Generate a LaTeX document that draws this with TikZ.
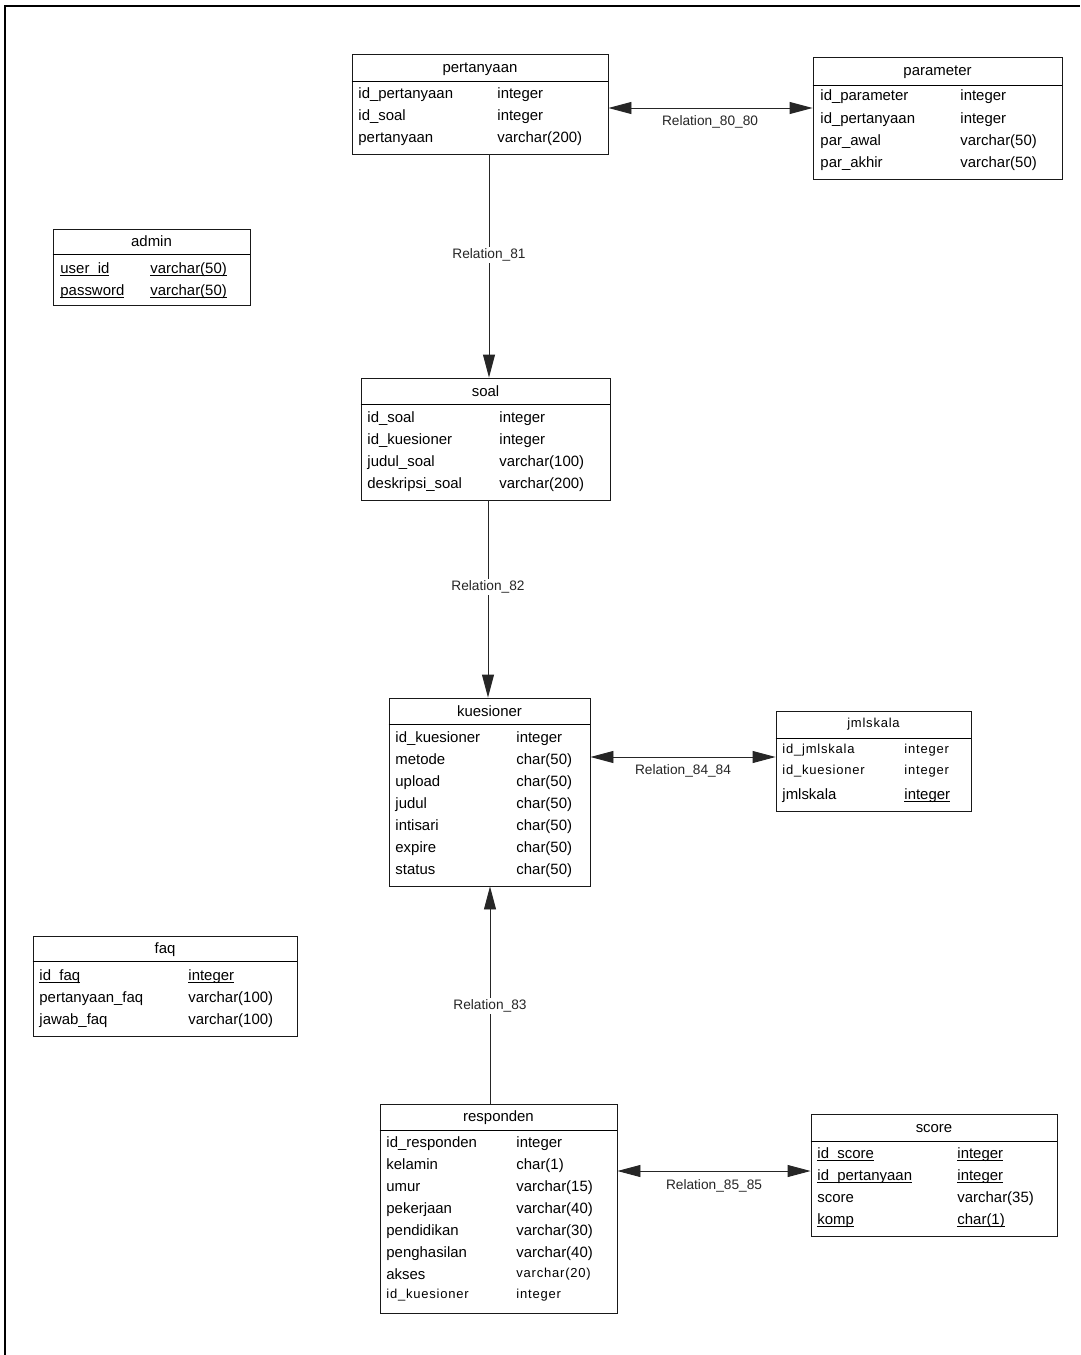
\documentclass[tikz,border=0pt]{standalone}
\usepackage{fontspec}
\setmainfont{Liberation Sans}
\usetikzlibrary{arrows.meta,fit}
\newcommand\ulin[1]{\setbox0\hbox{#1}\rlap{\rule[-1.5pt]{\wd0}{0.45pt}}\box0}

\begin{document}
\begin{tikzpicture}[x=0.02cm, y=-0.02cm, line width=0.5pt,
    >={Triangle[length=4.6mm,width=2.4mm]},
    tbl/.style={draw=black!90, inner sep=0pt},
    ttl/.style={anchor=base, inner sep=0pt, font=\fontsize{8.5}{10}\selectfont},
    sttl/.style={ttl, font=\fontsize{7.4}{9}\selectfont\addfontfeature{LetterSpace=6}},
    fld/.style={anchor=base west, inner sep=0pt, font=\fontsize{8.5}{10}\selectfont},
    sfld/.style={fld, font=\fontsize{7.4}{9}\selectfont\addfontfeature{LetterSpace=6}},
    rlab/.style={fill=white, inner sep=1pt, text=black!85, font=\fontsize{7.8}{9}\selectfont},
    rel/.style={draw=black!85}]
    \useasboundingbox (0,0) rectangle (1080,1355);
    \draw[line width=1.2pt] (5,1355) -- (5,6) -- (1080,6);

    % pertanyaan
    \node[tbl, fit={(352,54) (608,154)}] (pert) {};
    \draw (pert.west |- 0,81) -- (pert.east |- 0,81);
    \node[ttl] (pert-h) at (480,72) {pertanyaan};
    \path (358,98) node[fld] (pert-1) {id\_pertanyaan} +(139,0) node[fld] (pert-1t) {integer}
    ++(0,22) node[fld] (pert-2) {id\_soal} +(139,0) node[fld] (pert-2t) {integer}
    ++(0,22) node[fld] (pert-3) {pertanyaan} +(139,0) node[fld] (pert-3t) {varchar(200)};

    % parameter
    \node[tbl, fit={(813,57) (1062,179)}] (param) {};
    \draw (param.west |- 0,85) -- (param.east |- 0,85);
    \node[ttl] (param-h) at (937.5,76) {parameter};
    \path (820,101) node[fld] (param-1) {id\_parameter} +(140,0) node[fld] (param-1t) {integer}
    ++(0,22) node[fld] (param-2) {id\_pertanyaan} +(140,0) node[fld] (param-2t) {integer}
    ++(0,22) node[fld] (param-3) {par\_awal} +(140,0) node[fld] (param-3t) {varchar(50)}
    ++(0,22) node[fld] (param-4) {par\_akhir} +(140,0) node[fld] (param-4t) {varchar(50)};

    % admin
    \node[tbl, fit={(53,229) (250,305)}] (admin) {};
    \draw (admin.west |- 0,254) -- (admin.east |- 0,254);
    \node[ttl] (admin-h) at (151.5,246) {admin};
    \path (60,273) node[fld] (admin-1) {\ulin{user\_id}} +(90,0) node[fld] (admin-1t) {\ulin{varchar(50)}}
    ++(0,22) node[fld] (admin-2) {\ulin{password}} +(90,0) node[fld] (admin-2t) {\ulin{varchar(50)}};

    % soal
    \node[tbl, fit={(361,378) (610,500)}] (soal) {};
    \draw (soal.west |- 0,404) -- (soal.east |- 0,404);
    \node[ttl] (soal-h) at (485.5,396) {soal};
    \path (367,422) node[fld] (soal-1) {id\_soal} +(132,0) node[fld] (soal-1t) {integer}
    ++(0,22) node[fld] (soal-2) {id\_kuesioner} +(132,0) node[fld] (soal-2t) {integer}
    ++(0,22) node[fld] (soal-3) {judul\_soal} +(132,0) node[fld] (soal-3t) {varchar(100)}
    ++(0,22) node[fld] (soal-4) {deskripsi\_soal} +(132,0) node[fld] (soal-4t) {varchar(200)};

    % kuesioner
    \node[tbl, fit={(389,698) (590,886)}] (kues) {};
    \draw (kues.west |- 0,724) -- (kues.east |- 0,724);
    \node[ttl] (kues-h) at (489.5,716) {kuesioner};
    \path (395,742) node[fld] (kues-1) {id\_kuesioner} +(121,0) node[fld] (kues-1t) {integer}
    ++(0,22) node[fld] (kues-2) {metode} +(121,0) node[fld] (kues-2t) {char(50)}
    ++(0,22) node[fld] (kues-3) {upload} +(121,0) node[fld] (kues-3t) {char(50)}
    ++(0,22) node[fld] (kues-4) {judul} +(121,0) node[fld] (kues-4t) {char(50)}
    ++(0,22) node[fld] (kues-5) {intisari} +(121,0) node[fld] (kues-5t) {char(50)}
    ++(0,22) node[fld] (kues-6) {expire} +(121,0) node[fld] (kues-6t) {char(50)}
    ++(0,22) node[fld] (kues-7) {status} +(121,0) node[fld] (kues-7t) {char(50)};

    % jmlskala
    \node[tbl, fit={(776,711) (971,811)}] (jml) {};
    \draw (jml.west |- 0,738) -- (jml.east |- 0,738);
    \node[sttl] (jml-h) at (873.5,727) {jmlskala};
    \path (782,753) node[sfld] (jml-1) {id\_jmlskala} +(122,0) node[sfld] (jml-1t) {integer}
    ++(0,21) node[sfld] (jml-2) {id\_kuesioner} +(122,0) node[sfld] (jml-2t) {integer}
    ++(0,25) node[fld] (jml-3) {jmlskala} +(122,0) node[fld] (jml-3t) {\ulin{integer}};

    % faq
    \node[tbl, fit={(33,936) (297,1036)}] (faq) {};
    \draw (faq.west |- 0,961) -- (faq.east |- 0,961);
    \node[ttl] (faq-h) at (165,953) {faq};
    \path (39,980) node[fld] (faq-1) {\ulin{id\_faq}} +(149,0) node[fld] (faq-1t) {\ulin{integer}}
    ++(0,22) node[fld] (faq-2) {pertanyaan\_faq} +(149,0) node[fld] (faq-2t) {varchar(100)}
    ++(0,22) node[fld] (faq-3) {jawab\_faq} +(149,0) node[fld] (faq-3t) {varchar(100)};

    % responden
    \node[tbl, fit={(380,1104) (617,1313)}] (resp) {};
    \draw (resp.west |- 0,1130) -- (resp.east |- 0,1130);
    \node[ttl] (resp-h) at (498.5,1121) {responden};
    \path (386,1147) node[fld] (resp-1) {id\_responden} +(130,0) node[fld] (resp-1t) {integer}
    ++(0,22) node[fld] (resp-2) {kelamin} +(130,0) node[fld] (resp-2t) {char(1)}
    ++(0,22) node[fld] (resp-3) {umur} +(130,0) node[fld] (resp-3t) {varchar(15)}
    ++(0,22) node[fld] (resp-4) {pekerjaan} +(130,0) node[fld] (resp-4t) {varchar(40)}
    ++(0,22) node[fld] (resp-5) {pendidikan} +(130,0) node[fld] (resp-5t) {varchar(30)}
    ++(0,22) node[fld] (resp-6) {penghasilan} +(130,0) node[fld] (resp-6t) {varchar(40)}
    ++(0,22) node[fld] (resp-7) {akses} +(130,-2) node[sfld] (resp-7t) {varchar(20)}
    ++(0,19) node[sfld] (resp-8) {id\_kuesioner} +(130,0) node[sfld] (resp-8t) {integer};

    % score
    \node[tbl, fit={(811,1114) (1057,1236)}] (score) {};
    \draw (score.west |- 0,1141) -- (score.east |- 0,1141);
    \node[ttl] (score-h) at (934,1132) {score};
    \path (817,1158) node[fld] (score-1) {\ulin{id\_score}} +(140,0) node[fld] (score-1t) {\ulin{integer}}
    ++(0,22) node[fld] (score-2) {\ulin{id\_pertanyaan}} +(140,0) node[fld] (score-2t) {\ulin{integer}}
    ++(0,22) node[fld] (score-3) {score} +(140,0) node[fld] (score-3t) {varchar(35)}
    ++(0,22) node[fld] (score-4) {\ulin{komp}} +(140,0) node[fld] (score-4t) {\ulin{char(1)}};

    % relations
    \draw[rel, <->] (pert.east |- 0,108) -- (param.west |- 0,108);
    \node[rlab] (r8080) at (710,122) {Relation\_80\_80};
    \draw[rel, ->] (pert.south -| 489,0) -- node[rlab, pos=0.45] (r81) {Relation\_81} (soal.north -| 489,0);
    \draw[rel, ->] (soal.south -| 488,0) -- node[rlab, pos=0.44] (r82) {Relation\_82} (kues.north -| 488,0);
    \draw[rel, <->] (kues.east |- 0,757) -- (jml.west |- 0,757);
    \node[rlab] (r8484) at (683,771) {Relation\_84\_84};
    \draw[rel, ->] (resp.north -| 490,0) -- node[rlab, pos=0.45] (r83) {Relation\_83} (kues.south -| 490,0);
    \draw[rel, <->] (resp.east |- 0,1171) -- (score.west |- 0,1171);
    \node[rlab] (r8585) at (714,1186) {Relation\_85\_85};
\end{tikzpicture}
\end{document}
